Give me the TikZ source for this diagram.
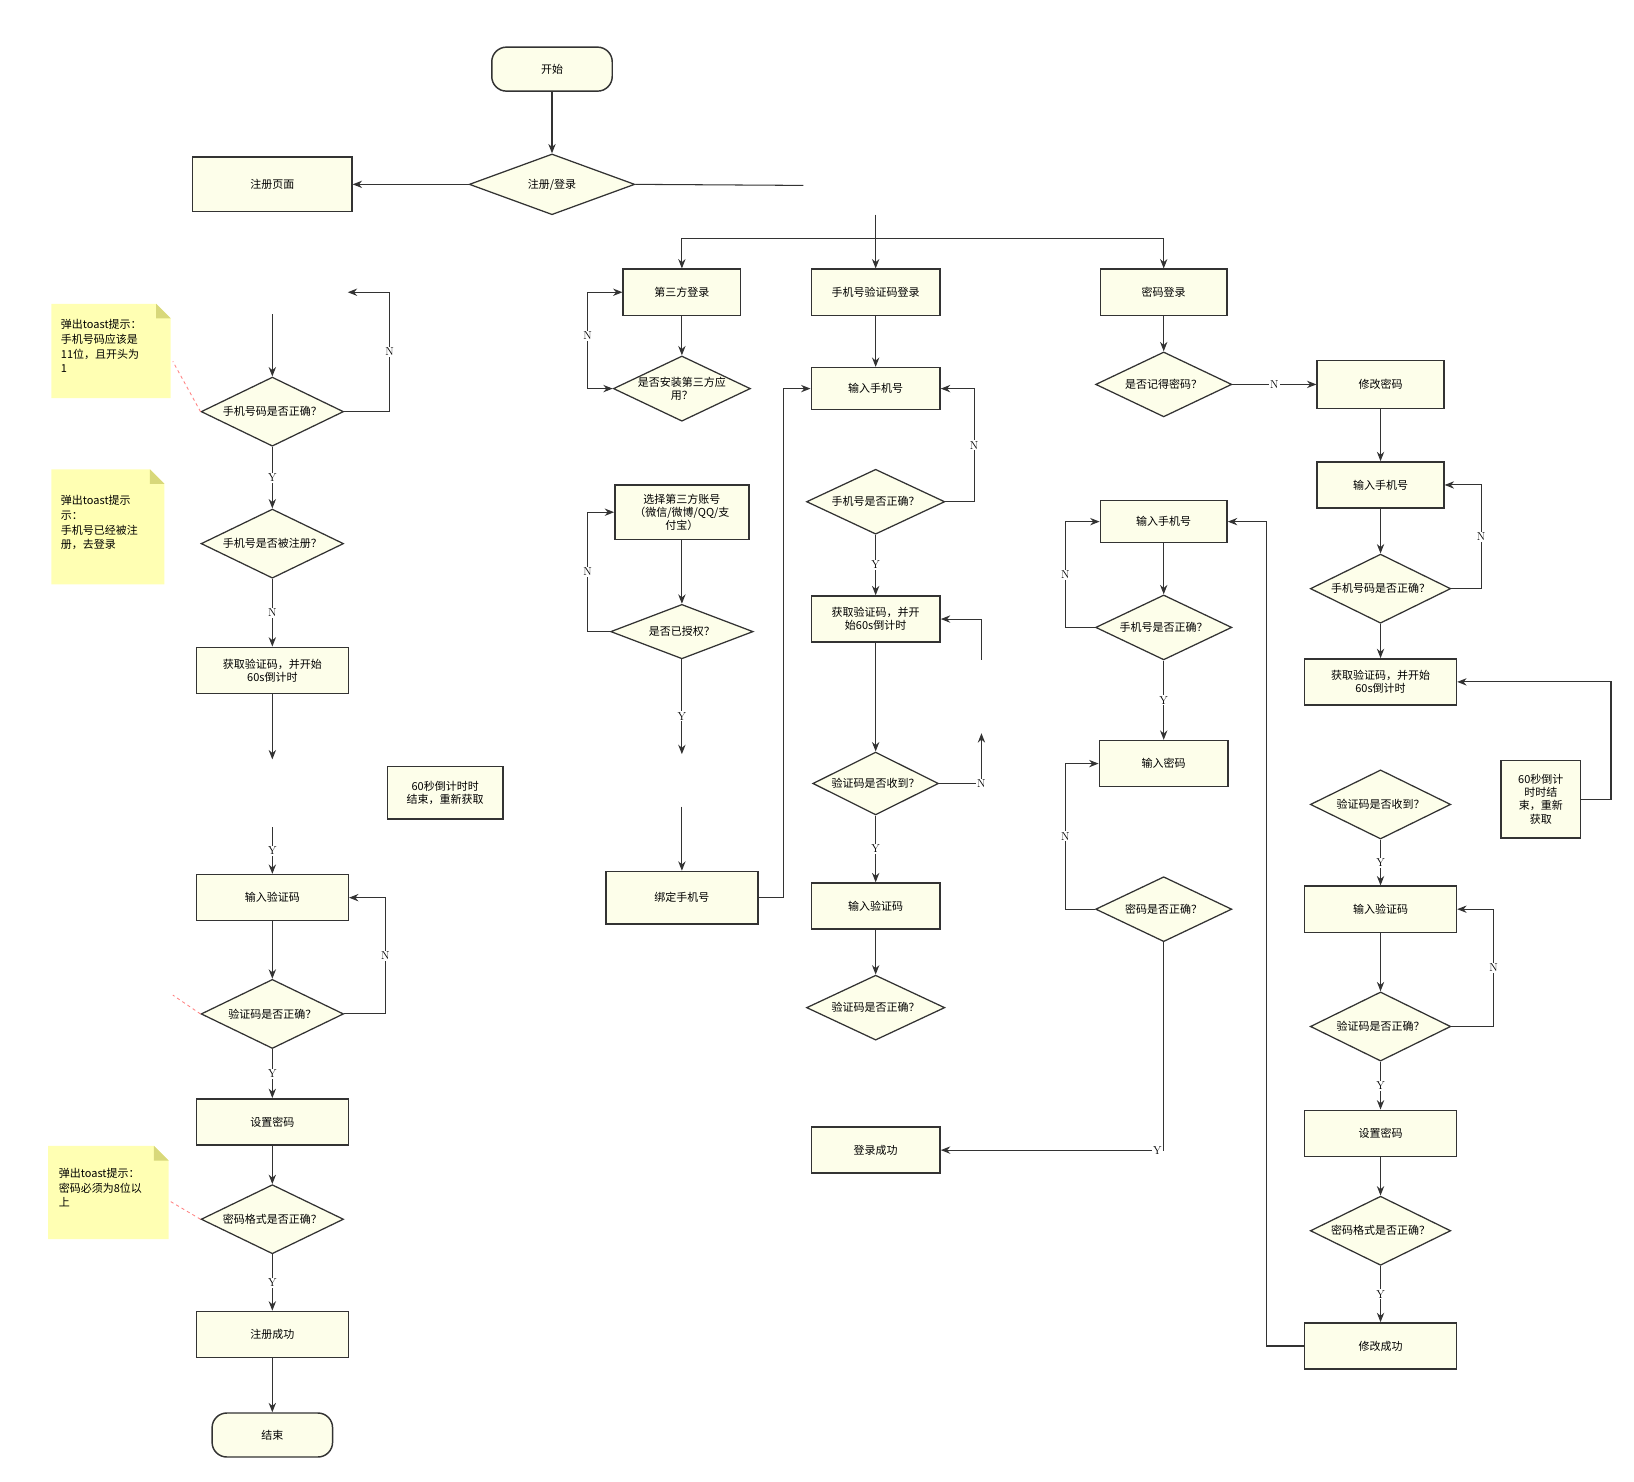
\documentclass[tikz,border=0pt]{standalone}
\usepackage{fontspec}
\newfontfamily\cjk{Noto Sans CJK SC}
\usetikzlibrary{shapes.geometric,arrows.meta}
\definecolor{fillc}{HTML}{FDFEEA}
\definecolor{notec}{HTML}{FFFFB3}
\definecolor{foldc}{HTML}{D8D87A}
\definecolor{linec}{HTML}{333333}
\begin{document}
\begin{tikzpicture}[x=1pt,y=-1pt,
 base/.style={draw=linec,fill=fillc,line width=1.4pt,font=\cjk\fontsize{10.5}{12.5}\selectfont,align=center,inner sep=1pt},
 box/.style={base,rectangle,minimum height=44pt},
 term/.style={base,rectangle,rounded corners=14pt,minimum width=115pt,minimum height=42pt},
 dia/.style={base,diamond,aspect=2.1,inner sep=0pt,line width=1.2pt},
 ar/.style={draw=linec,line width=1pt,-{Stealth[length=9pt,width=7pt]}},
 ln/.style={draw=linec,line width=1pt},
 lab/.style={fill=white,inner sep=1pt,font=\fontsize{11}{12}\selectfont},
 ntxt/.style={font=\cjk\fontsize{10.5}{14}\selectfont,align=left,anchor=north west,inner sep=0pt},
 pk/.style={draw=red!50,dashed,line width=0.8pt}]
\useasboundingbox (0,0) rectangle (1560,1414);
\def\dz#1#2#3#4#5{\node[dia,minimum width=#3pt,minimum height=#4pt] (#1) at (#2) {#5};}
\def\note#1#2#3#4{\fill[notec] (#1,#2) -- (#3-14,#2) -- (#3,#2+14) -- (#3,#4) -- (#1,#4) -- cycle;
 \fill[foldc] (#3-14,#2) -- (#3,#2+14) -- (#3-14,#2+14) -- cycle;}
% top
\node[term] (start) at (527,66) {开始};
\dz{rl}{527,176}{158}{58}{注册/登录}
\node[box,minimum width=152pt,minimum height=52pt] (regp) at (260,176) {注册页面};
\coordinate (rlend) at (767,177);
\draw[ar] (start) -- (rl);
\draw[ar] (rl) -- (regp);
\draw[ln] (rl.east) -- (rlend);
\node[box,minimum width=112pt] (tp) at (651,279) {第三方登录};
\node[box,minimum width=123pt] (pv) at (836,279) {手机号验证码登录};
\node[box,minimum width=121pt] (pw) at (1111,279) {密码登录};
\coordinate (bt) at (836,205); \coordinate (bj) at (836,228);
\draw[ln] (bt) -- (bj);
\draw[ar] (bj) -| (tp); \draw[ar] (bj) -- (pv); \draw[ar] (bj) -| (pw);
% left column
\coordinate (l0) at (260,300); \coordinate (l0n) at (332,279);
\dz{lpc}{260,393}{136}{66}{手机号码是否正确？}
\dz{lreg}{260,519}{136}{66}{手机号是否被注册？}
\node[box,minimum width=145pt] (lcode) at (260,640) {获取验证码，并开始\\60s倒计时};
\coordinate (lc1) at (260,725);
\node[box,minimum width=110pt,minimum height=50pt] (l60) at (425,757) {60秒倒计时时\\结束，重新获取};
\coordinate (lc2) at (260,790);
\node[box,minimum width=145pt] (lin) at (260,857) {输入验证码};
\dz{lok}{260,968}{136}{66}{验证码是否正确？}
\node[box,minimum width=145pt] (lset) at (260,1071) {设置密码};
\dz{lfmt}{260,1164}{136}{66}{密码格式是否正确？}
\node[box,minimum width=145pt] (ldone) at (260,1274) {注册成功};
\node[term] (end) at (260,1370) {结束};
\draw[ar] (l0) -- (lpc);
\draw[ar] (lpc.east) -- (372,393) -- (372,279) node[lab,pos=0.5]{N} -- (l0n);
\draw[ar] (lpc) -- node[lab]{Y} (lreg);
\draw[ar] (lreg) -- node[lab]{N} (lcode);
\draw[ar] (lcode) -- (lc1);
\draw[ar] (lc2) -- node[lab]{Y} (lin);
\draw[ar] (lin) -- (lok);
\draw[ar] (lok.east) -- (368,968) -- (368,857) node[lab,pos=0.5]{N} -- (lin.east);
\draw[ar] (lok) -- node[lab]{Y} (lset);
\draw[ar] (lset) -- (lfmt);
\draw[ar] (lfmt) -- node[lab]{Y} (ldone);
\draw[ar] (ldone) -- (end);
\note{49}{290}{163}{380}
\node[ntxt] (n1) at (58,305) {弹出toast提示：\\手机号码应该是\\11位，且开头为\\1};
\note{49}{448}{157}{558}
\node[ntxt] (n2) at (58,473) {弹出toast提示\\示：\\手机号已经被注\\册，去登录};
\note{46}{1094}{161}{1183}
\node[ntxt] (n3) at (56,1115) {弹出toast提示：\\密码必须为8位以\\上};
\draw[pk] (lpc.west) -- (165,345);
\draw[pk] (lok.west) -- (165,950);
\draw[pk] (lfmt.west) -- (161,1146);
% third party
\dz{inst}{651,371}{130}{62}{是否安装第三方应\\用？}
\node[box,minimum width=128pt,minimum height=52pt] (sel) at (651,489) {选择第三方账号\\（微信/微博/QQ/支\\付宝）};
\dz{auth}{651,603}{136}{52}{是否已授权？}
\coordinate (ta) at (651,720); \coordinate (tb) at (651,770);
\node[box,minimum width=145pt,minimum height=50pt] (bind) at (651,857) {绑定手机号};
\draw[ar] (tp) -- (inst);
\draw[{Stealth[length=9pt,width=7pt]}-{Stealth[length=9pt,width=7pt]},draw=linec,line width=1pt] (tp.west) -- (561,279) -- (561,371) node[lab,pos=0.45]{N} -- (inst.west);
\draw[ar] (auth.west) -- (561,603) -- (561,489) node[lab,pos=0.5]{N} -- (sel.west);
\draw[ar] (sel) -- (auth);
\draw[ar] (auth) -- node[lab,pos=0.6]{Y} (ta);
\draw[ar] (tb) -- (bind);
% phone code
\node[box,minimum width=123pt,minimum height=40pt] (pin) at (836,371) {输入手机号};
\dz{pok}{836,479}{132}{62}{手机号是否正确？}
\node[box,minimum width=123pt] (pcode) at (836,591) {获取验证码，并开\\始60s倒计时};
\dz{prec}{836,748}{120}{60}{验证码是否收到？}
\node[box,minimum width=123pt] (pin2) at (836,865) {输入验证码};
\dz{pok2}{836,962}{132}{62}{验证码是否正确？}
\node[box,minimum width=123pt] (succ) at (836,1098) {登录成功};
\coordinate (pr1) at (937,630); \coordinate (pr2) at (937,700);
\draw[ar] (pv) -- (pin);
\draw[ar] (bind.east) -- (748,857) -- (748,371) -- (pin.west);
\draw[ar] (pok.east) -- (930,479) -- (930,371) node[lab,pos=0.5]{N} -- (pin.east);
\draw[ar] (pok) -- node[lab]{Y} (pcode);
\draw[ar] (pr1) -- (937,591) -- (pcode.east);
\draw[ar] (pcode) -- (prec);
\draw[ar] (prec.east) -- (937,748) node[lab,pos=1]{N} -- (pr2);
\draw[ar] (prec) -- node[lab]{Y} (pin2);
\draw[ar] (pin2) -- (pok2);
% password
\dz{rem}{1111,367}{130}{62}{是否记得密码？}
\node[box,minimum width=121pt,minimum height=46pt] (mod) at (1318,367) {修改密码};
\node[box,minimum width=121pt,minimum height=40pt] (win) at (1111,498) {输入手机号};
\dz{wok}{1111,599}{130}{62}{手机号是否正确？}
\node[box,minimum width=123pt] (wpw) at (1111,729) {输入密码};
\dz{wpok}{1111,868}{130}{62}{密码是否正确？}
\draw[ar] (pw) -- (rem);
\draw[ar] (rem) -- node[lab]{N} (mod);
\draw[ar] (win) -- (wok);
\draw[ar] (wok.west) -- (1017,599) -- (1017,498) node[lab,pos=0.5]{N} -- (win.west);
\draw[ar] (wok) -- node[lab]{Y} (wpw);
\draw[ar] (wpok.west) -- (1017,868) -- (1017,729) node[lab,pos=0.5]{N} -- (wpw.west);
\draw[ar] (wpok.south) -- (1111,1098) node[lab,pos=1,xshift=-6pt]{Y} -- (succ.east);
% modify
\node[box,minimum width=121pt] (min) at (1318,463) {输入手机号};
\dz{mok}{1318,562}{134}{66}{手机号码是否正确？}
\node[box,minimum width=145pt] (mcode) at (1318,651) {获取验证码，并开始\\60s倒计时};
\node[box,minimum width=76pt,minimum height=74pt] (m60) at (1471,763) {60秒倒计\\时时结\\束，重新\\获取};
\dz{mrec}{1318,768}{134}{66}{验证码是否收到？}
\node[box,minimum width=145pt] (min2) at (1318,868) {输入验证码};
\dz{mok2}{1318,980}{134}{66}{验证码是否正确？}
\node[box,minimum width=145pt] (mset) at (1318,1082) {设置密码};
\dz{mfmt}{1318,1175}{134}{66}{密码格式是否正确？}
\node[box,minimum width=145pt] (mdone) at (1318,1285) {修改成功};
\draw[ar] (mod) -- (min);
\draw[ar] (min) -- (mok);
\draw[ar] (mok.east) -- (1414,562) -- (1414,463) node[lab,pos=0.5]{N} -- (min.east);
\draw[ar] (mok) -- (mcode);
\draw[ar] (m60.east) -- (1538,763) -- (1538,651) -- (mcode.east);
\draw[ar] (mrec) -- node[lab]{Y} (min2);
\draw[ar] (min2) -- (mok2);
\draw[ar] (mok2.east) -- (1426,980) -- (1426,868) node[lab,pos=0.5]{N} -- (min2.east);
\draw[ar] (mok2) -- node[lab]{Y} (mset);
\draw[ar] (mset) -- (mfmt);
\draw[ar] (mfmt) -- node[lab]{Y} (mdone);
\draw[ar] (mdone.west) -- (1209,1285) -- (1209,498) -- (win.east);
\end{tikzpicture}
\end{document}
